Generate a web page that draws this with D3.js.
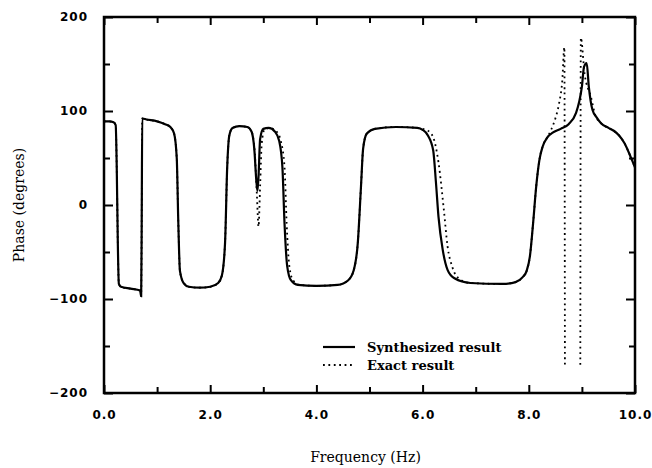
<!DOCTYPE html>
<html>
<head>
<meta charset="utf-8">
<script src="https://cdn.jsdelivr.net/npm/d3@7"></script>
<style>
  body { margin: 0; background: #fff; }
  svg { display: block; }
</style>
</head>
<body>
<div id="chart"></div>
<script>
// synthesized result (solid)
const synthFreq = [0.0, 0.1, 0.18, 0.22, 0.24, 0.26, 0.28, 0.32, 0.5, 0.68, 0.70, 0.71, 0.72, 0.8, 1.0, 1.15, 1.25, 1.32, 1.37, 1.40, 1.43, 1.5, 1.6, 1.8, 2.0, 2.15, 2.22, 2.28, 2.32, 2.36, 2.42, 2.55, 2.7, 2.78, 2.83, 2.87, 2.89, 2.91, 2.94, 3.0, 3.1, 3.22, 3.3, 3.36, 3.40, 3.45, 3.52, 3.65, 4.0, 4.4, 4.6, 4.7, 4.78, 4.84, 4.88, 4.95, 5.1, 5.5, 5.9, 6.0, 6.1, 6.2, 6.25, 6.3, 6.38, 6.47, 6.6, 6.9, 7.5, 7.75, 7.88, 7.96, 8.02, 8.08, 8.14, 8.2, 8.26, 8.35, 8.45, 8.6, 8.75, 8.89, 8.95, 9.0, 9.04, 9.09, 9.13, 9.2, 9.28, 9.36, 9.5, 9.6, 9.7, 9.8, 9.92, 10.0];
const synthPhase = [89, 89, 88, 85, 40, -40, -84, -87, -89, -91, -97, -20, 92, 91, 89, 86, 83, 76, 50, -20, -70, -83, -87, -88, -87, -83, -75, -40, 40, 74, 82, 84, 83, 78, 60, 25, 15, 30, 70, 81, 82, 78, 68, 40, -20, -65, -80, -85, -86, -85, -80, -70, -40, 20, 60, 76, 81, 83, 82, 80, 74, 58, 25, -13, -48, -69, -78, -83, -84, -82, -77, -70, -55, -20, 20, 48, 62, 72, 77, 81, 86, 98, 110, 126, 147, 151, 126, 101, 93, 87, 82, 79, 74, 66, 51, 40];

// exact result (dotted), null marks a break in the line
const exactFreq = [0.0, 0.1, 0.18, 0.22, 0.24, 0.26, 0.28, 0.32, 0.5, 0.68, 0.70, 0.71, 0.72, 0.8, 1.0, 1.15, 1.25, 1.32, 1.37, 1.40, 1.43, 1.5, 1.6, 1.8, 2.0, 2.15, 2.22, 2.28, 2.32, 2.36, 2.42, 2.55, 2.7, 2.78, 2.84, 2.88, 2.91, 2.94, 2.97, 3.02, 3.12, 3.25, 3.33, 3.40, 3.44, 3.49, 3.56, 3.68, 4.0, 4.4, 4.6, 4.7, 4.78, 4.84, 4.88, 4.95, 5.1, 5.5, 5.9, 6.1, 6.2, 6.3, 6.4, 6.47, 6.56, 6.7, 6.9, 7.5, 7.75, 7.88, 7.96, 8.02, 8.08, 8.14, 8.2, 8.26, 8.35, 8.42, 8.5, 8.57, 8.63, 8.67, 8.68, 8.8, 8.97, 8.98, 9.05, 9.17, 9.25, 9.36, 9.5, 9.6, 9.7, 9.8, 9.92, 10.0];
const exactPhase = [89, 89, 88, 85, 40, -40, -84, -87, -89, -91, -97, -20, 92, 91, 89, 86, 83, 76, 50, -20, -70, -83, -87, -88, -87, -83, -75, -40, 40, 74, 82, 84, 83, 78, 55, 10, -23, 20, 65, 80, 82, 78, 68, 40, -20, -65, -80, -85, -86, -85, -80, -70, -40, 20, 60, 76, 81, 83, 82, 79, 72, 45, -5, -44, -66, -79, -83, -84, -82, -77, -70, -55, -20, 20, 48, 62, 72, 80, 92, 108, 132, 168, -172, null, -170, 178, 140, 115, 96, 87, 82, 79, 74, 66, 51, 40];

const xMajor = [0, 2, 4, 6, 8, 10];
const xMinor = [1, 3, 5, 7, 9];
const yMajor = [-200, -100, 0, 100, 200];
const yMinor = [-150, -50, 50, 150];

const W = 652, H = 468;
const margin = {top: 17, right: 17, bottom: 75, left: 104};
const width = W - margin.left - margin.right;
const height = H - margin.top - margin.bottom;

const svg = d3.select("#chart").append("svg")
  .attr("width", W)
  .attr("height", H);

const g = svg.append("g")
  .attr("transform", "translate(" + margin.left + "," + margin.top + ")");

const x = d3.scaleLinear().domain([0, 10]).range([0, width]);
const y = d3.scaleLinear().domain([-200, 200]).range([height, 0]);

const tickFont = "DejaVu Sans, sans-serif";
const serif = "DejaVu Serif, serif";

function styleAxis(sel) {
  sel.select(".domain").remove();
  sel.selectAll("line").attr("stroke", "#000").attr("stroke-width", 2);
  sel.selectAll("text")
    .attr("fill", "#000")
    .style("font-family", tickFont)
    .style("font-weight", "bold")
    .style("font-size", "12px")
    .style("letter-spacing", "1px");
}

// bottom axis
g.append("g").attr("transform", "translate(0," + height + ")")
  .call(d3.axisBottom(x).tickValues(xMajor).tickFormat(d3.format(".1f")).tickSize(-8).tickPadding(17))
  .call(styleAxis);
g.append("g").attr("transform", "translate(0," + height + ")")
  .call(d3.axisBottom(x).tickValues(xMinor).tickFormat("").tickSize(-6))
  .call(styleAxis);

// top axis
g.append("g")
  .call(d3.axisTop(x).tickValues(xMajor).tickFormat("").tickSize(-8))
  .call(styleAxis);
g.append("g")
  .call(d3.axisTop(x).tickValues(xMinor).tickFormat("").tickSize(-6))
  .call(styleAxis);

// left axis
g.append("g")
  .call(d3.axisLeft(y).tickValues(yMajor).tickSize(-9).tickPadding(16))
  .call(styleAxis);
g.append("g")
  .call(d3.axisLeft(y).tickValues(yMinor).tickFormat("").tickSize(-6))
  .call(styleAxis);

// right axis
g.append("g").attr("transform", "translate(" + width + ",0)")
  .call(d3.axisRight(y).tickValues(yMajor).tickFormat("").tickSize(-9))
  .call(styleAxis);
g.append("g").attr("transform", "translate(" + width + ",0)")
  .call(d3.axisRight(y).tickValues(yMinor).tickFormat("").tickSize(-6))
  .call(styleAxis);

// frame
g.append("rect")
  .attr("width", width)
  .attr("height", height)
  .attr("fill", "none")
  .attr("stroke", "#000")
  .attr("stroke-width", 2.5);

// curves
const synthData = synthFreq.map((f, i) => [f, synthPhase[i]]);
const exactData = exactFreq.map((f, i) => [f, exactPhase[i]]);

const line = d3.line()
  .defined(d => d[1] !== null)
  .x(d => x(d[0]))
  .y(d => y(d[1]))
  .curve(d3.curveMonotoneX);

g.append("path")
  .datum(exactData)
  .attr("d", line)
  .attr("fill", "none")
  .attr("stroke", "#000")
  .attr("stroke-width", 1.8)
  .attr("stroke-dasharray", "1.8,3.6");

g.append("path")
  .datum(synthData)
  .attr("d", line)
  .attr("fill", "none")
  .attr("stroke", "#000")
  .attr("stroke-width", 2.2);

// axis titles
svg.append("text")
  .attr("x", margin.left + x(5) - 4)
  .attr("y", 462)
  .attr("text-anchor", "middle")
  .style("font-family", serif)
  .style("font-size", "14px")
  .text("Frequency (Hz)");

svg.append("text")
  .attr("transform", "translate(24," + (margin.top + y(0)) + ")rotate(-90)")
  .attr("text-anchor", "middle")
  .style("font-family", serif)
  .style("font-size", "14px")
  .text("Phase (degrees)");

// legend
const legend = svg.append("g");
legend.append("line")
  .attr("x1", 323).attr("x2", 355)
  .attr("y1", 347).attr("y2", 347)
  .attr("stroke", "#000").attr("stroke-width", 2.2);
legend.append("line")
  .attr("x1", 323).attr("x2", 355)
  .attr("y1", 365).attr("y2", 365)
  .attr("stroke", "#000").attr("stroke-width", 1.8)
  .attr("stroke-dasharray", "1.8,3.6");
legend.append("text")
  .attr("x", 367).attr("y", 352)
  .style("font-family", serif)
  .style("font-weight", "bold")
  .style("font-size", "13px")
  .text("Synthesized result");
legend.append("text")
  .attr("x", 367).attr("y", 370)
  .style("font-family", serif)
  .style("font-weight", "bold")
  .style("font-size", "13px")
  .text("Exact result");
</script>
</body>
</html>
